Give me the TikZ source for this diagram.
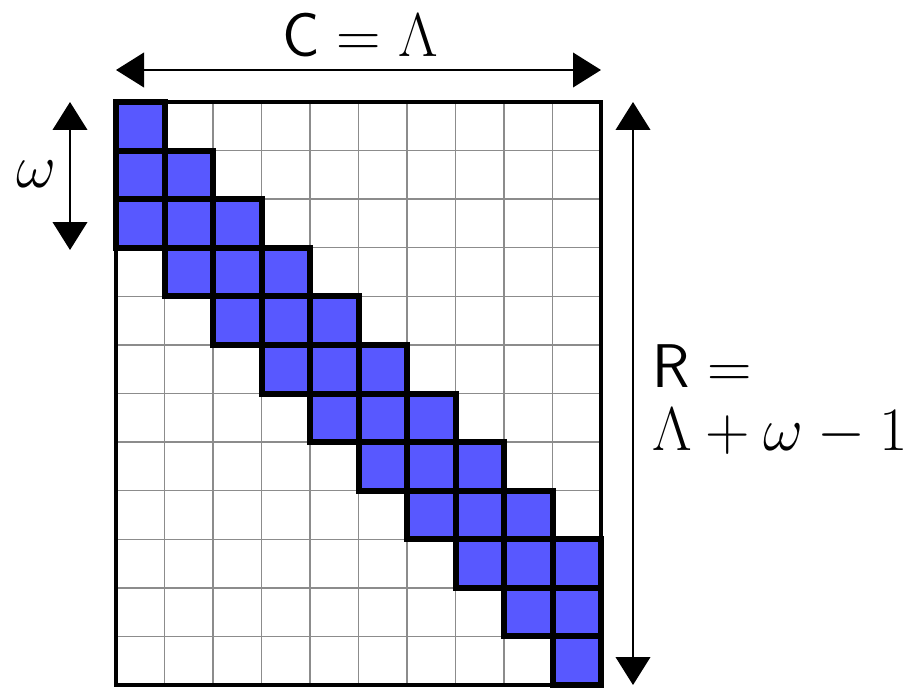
\documentclass[tikz,border=0pt]{standalone}
\usetikzlibrary{arrows.meta}
\definecolor{bandblue}{RGB}{88,88,255}
\begin{document}
\begin{tikzpicture}[x=0.75pt,y=-0.75pt,
  gridline/.style={draw=gray!90, line width=1.1pt},
  bandcell/.style={fill=bandblue, draw=black, line width=4.5pt},
  border/.style={draw=black, line width=3pt},
  dimarrow/.style={{Triangle[length=21pt,width=26pt]}-{Triangle[length=21pt,width=26pt]}, line width=1.3pt},
  lbl/.style={font=\fontsize{24.88}{25.5}\selectfont, inner sep=0pt, scale=1.86}]
\useasboundingbox (0,0) rectangle (917,688);
% grid lines
\foreach \i in {1,...,9}
  \draw[gridline] ({116+\i*48.5},102) -- ({116+\i*48.5},685);
\foreach \j in {1,...,11}
  \draw[gridline] (116,{102+\j*48.583}) -- (601,{102+\j*48.583});
% band cells
\foreach \c in {0,...,9}
  \foreach \k in {0,1,2} {
    \pgfmathtruncatemacro\r{\c+\k}
    \filldraw[bandcell] ({116+\c*48.5},{102+\r*48.583}) rectangle ++(48.5,48.583);
  }
% border
\draw[border] (116,102) rectangle (601,685);
% dimension coordinates
\coordinate (cl) at (116,70);
\coordinate (cr) at (601,70);
\coordinate (wt) at (70,102);
\coordinate (wb) at (70,250);
\coordinate (rt) at (633,102);
\coordinate (rb) at (633,685);
\draw[dimarrow] (cl) -- (cr);
\draw[dimarrow] (wt) -- (wb);
\draw[dimarrow] (rt) -- (rb);
% labels
\node[lbl] (clabel) at (360,35) {$\mathsf{C}=\Lambda$};
\node[lbl] (wlabel) at (36,174) {$\omega$};
\node[lbl, anchor=west, align=left] (rlabel) at (652,400) {$\mathsf{R}=$\\$\Lambda+\omega-1$};
\end{tikzpicture}
\end{document}
